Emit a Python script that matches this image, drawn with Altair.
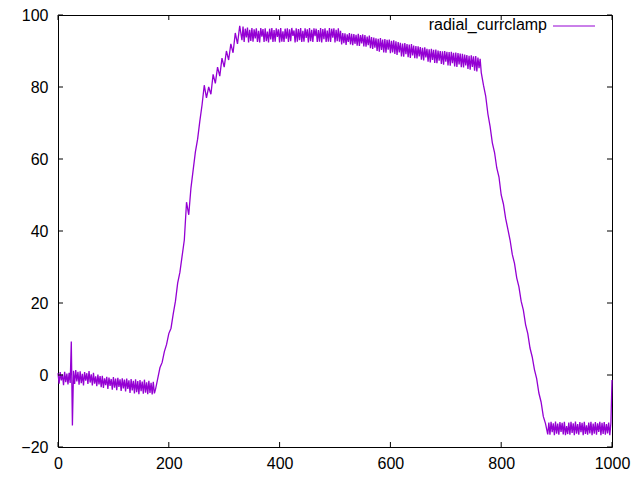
import altair as alt
import pandas as pd

series_name = "radial_currclamp"

# samples: (start x, step, values)
baseline_start, baseline_step = 0, 2
baseline_y = [0.5, -2.4, 0.8, -1.5, 0.2, -2.8, 0.9, -2.0, 0.4, -2.6,
              0.6, -2.2, 9.3, -14.0, 1.2, -2.5, 1.4, -1.8, 0.9, -2.7,
              1.0, -2.3, 0.3, -2.9, 0.8, -1.6, 0.5, -2.5, 1.1, -2.1,
              0.2, -2.9, 0.6, -2.4, -0.4, -3.1, 0.1, -2.6, -0.3, -3.4,
              -0.2, -3.6, -0.9, -2.8, -0.5, -3.9, -0.7, -3.0, -1.1, -4.1,
              -0.6, -3.5, -1.0, -4.2, -0.8, -3.3, -1.2, -4.4, -0.9, -3.7,
              -1.3, -4.6, -1.0, -3.9, -1.5, -5.0, -1.1, -4.3, -1.6, -5.1,
              -1.2, -4.8, -1.7, -5.3, -1.4, -4.5, -1.8, -5.2, -1.3, -4.9,
              -2.0, -5.3, -1.6, -5.0, -2.2, -5.4, -1.9, -5.1]

rise_start, rise_step = 176, 4
rise_y = [-4.0, -1.0, 2.0, 3.5, 6.5, 8.5, 11.5, 13.0, 17.0, 20.5,
          25.5, 28.5, 33.0, 37.5, 48.0, 44.5, 52.0, 57.0, 62.0, 65.5,
          70.5, 75.0, 80.5, 77.0, 80.0, 78.0, 83.5, 81.0, 85.5, 83.0,
          88.0, 85.5, 90.0, 87.5, 92.0, 89.5, 95.0, 92.0, 97.0]

plateau_start, plateau_step = 332, 2
plateau_y = [93.0, 96.8, 92.5, 96.2, 93.8, 96.5, 92.4, 95.9, 92.8, 96.4,
             92.6, 96.0, 93.5, 96.3, 92.5, 95.6, 92.4, 96.4, 94.0, 96.1,
             92.5, 96.3, 92.7, 95.4, 92.4, 96.2, 93.2, 96.4, 92.5, 95.8,
             92.6, 96.3, 93.9, 96.0, 92.4, 96.4, 92.6, 95.5, 92.5, 96.2,
             93.4, 96.3, 92.5, 96.0, 92.7, 96.4, 94.2, 95.7, 92.4, 96.3,
             92.6, 96.1, 93.0, 96.4, 92.5, 95.6, 92.6, 96.3, 93.6, 96.0,
             92.4, 96.4, 92.7, 95.9, 92.5, 96.3, 94.1, 96.2, 92.5, 95.8,
             92.6, 96.4, 92.4, 96.1, 93.3, 96.3, 92.5, 95.7, 92.6, 96.4,
             92.5, 96.2, 93.7, 96.3, 92.4, 95.9, 92.7, 96.3, 92.6, 95.6,
             91.8, 95.0, 92.2, 94.9, 91.7, 94.6, 92.5, 95.0, 91.8, 94.8,
             91.6, 94.7, 92.0, 94.5, 91.5, 94.8, 91.4, 94.4, 92.1, 94.6,
             91.3, 94.4, 91.2, 94.0, 91.6, 94.3, 90.8, 93.9, 90.6, 93.7,
             90.9, 93.5, 90.0, 93.4, 89.8, 93.6, 90.3, 93.2, 89.6, 93.3,
             89.5, 93.1, 90.4, 93.2, 89.4, 92.8, 89.6, 93.0, 89.2, 92.7,
             88.9, 92.5, 89.6, 92.3, 88.5, 92.1, 88.4, 92.2, 89.1, 91.9,
             88.3, 91.8, 88.1, 91.9, 88.8, 91.5, 88.0, 91.4, 87.9, 91.3,
             88.5, 91.1, 87.6, 90.9, 87.4, 91.0, 88.2, 90.6, 87.0, 90.5,
             86.8, 90.6, 87.5, 90.3, 86.7, 90.4, 86.6, 90.1, 87.3, 90.0,
             86.4, 89.9, 86.2, 90.0, 87.0, 89.8, 86.0, 89.7, 85.9, 89.8,
             86.6, 89.5, 85.7, 89.6, 85.6, 89.4, 86.3, 89.3, 85.5, 89.2,
             85.4, 89.0, 86.0, 88.9, 85.0, 88.7, 84.8, 88.8, 85.6, 88.5,
             84.5, 88.6, 84.3, 88.2, 85.2, 87.8]

descent_start, descent_step = 764, 4
descent_y = [84.0, 80.5, 77.5, 72.5, 69.0, 64.5, 61.8, 57.5, 55.0, 50.0,
             47.5, 43.5, 40.5, 37.5, 33.5, 31.0, 27.0, 24.5, 20.5, 18.0,
             14.0, 11.5, 7.5, 5.0, 1.5, -1.0, -5.0, -7.5, -11.5, -13.5,
             -16.5]

floor_start, floor_step = 886, 2
floor_y = [-13.2, -16.6, -13.0, -15.9, -13.4, -16.7, -12.9, -16.3, -13.5, -16.6,
           -13.1, -15.8, -13.3, -16.5, -13.0, -16.7, -14.2, -16.4, -13.2, -16.6,
           -13.0, -16.1, -13.4, -16.7, -12.9, -16.3, -13.6, -16.6, -13.1, -15.9,
           -13.3, -16.7, -13.0, -16.4, -14.0, -16.6, -13.2, -16.2, -13.0, -16.7,
           -13.5, -16.3, -13.1, -16.6, -13.4, -15.8, -13.0, -16.7, -13.3, -16.4,
           -13.1, -16.6, -13.6, -16.2, -13.2, -16.7, -13.4, -1.4]

x_ticks = [0, 200, 400, 600, 800, 1000]
y_ticks = [-20, 0, 20, 40, 60, 80, 100]

segments = [(baseline_start, baseline_step, baseline_y),
            (rise_start, rise_step, rise_y),
            (plateau_start, plateau_step, plateau_y),
            (descent_start, descent_step, descent_y),
            (floor_start, floor_step, floor_y)]
xs, ys = [], []
for start, step, vals in segments:
    for i, v in enumerate(vals):
        xs.append(start + step * i)
        ys.append(v)
df = pd.DataFrame({"x": xs, "y": ys})

W, H = 554, 432
TICK = 5
FONT = "Liberation Sans"
FS = 16
COLOR = "#9400D3"

xscale = alt.Scale(domain=[0, 1000], nice=False, zero=False)
yscale = alt.Scale(domain=[-20, 100], nice=False, zero=False)

line = alt.Chart(df).mark_line(color=COLOR, strokeWidth=1.3).encode(
    x=alt.X("x:Q", scale=xscale, title=None,
            axis=alt.Axis(values=x_ticks, format="d", ticks=False, domain=False,
                          grid=False, labelFont=FONT, labelFontSize=FS,
                          labelColor="black", labelPadding=8, labelFlush=False)),
    y=alt.Y("y:Q", scale=yscale, title=None,
            axis=alt.Axis(values=y_ticks, format="d", ticks=False, domain=False,
                          grid=False, labelFont=FONT, labelFontSize=FS,
                          labelColor="black", labelPadding=10)),
)

xt = pd.DataFrame({"x": x_ticks})
yt = pd.DataFrame({"y": y_ticks})
bottom_ticks = alt.Chart(xt).mark_rule(color="black", strokeWidth=1).encode(
    x=alt.X("x:Q", scale=xscale), y=alt.value(H), y2=alt.value(H - TICK))
top_ticks = alt.Chart(xt).mark_rule(color="black", strokeWidth=1).encode(
    x=alt.X("x:Q", scale=xscale), y=alt.value(0), y2=alt.value(TICK))
left_ticks = alt.Chart(yt).mark_rule(color="black", strokeWidth=1).encode(
    y=alt.Y("y:Q", scale=yscale), x=alt.value(0), x2=alt.value(TICK))
right_ticks = alt.Chart(yt).mark_rule(color="black", strokeWidth=1).encode(
    y=alt.Y("y:Q", scale=yscale), x=alt.value(W), x2=alt.value(W - TICK))

leg = pd.DataFrame({"label": [series_name]})
legend_text = alt.Chart(leg).mark_text(
    align="right", baseline="middle", font=FONT, fontSize=FS, color="black"
).encode(x=alt.value(489), y=alt.value(10), text="label:N")
legend_line = alt.Chart(leg).mark_rule(color=COLOR, strokeWidth=1).encode(
    x=alt.value(495), x2=alt.value(537), y=alt.value(11))

chart = alt.layer(
    line, bottom_ticks, top_ticks, left_ticks, right_ticks, legend_text, legend_line
).properties(
    width=W, height=H,
    autosize=alt.AutoSizeParams(type="none"),
    padding={"left": 50, "top": 7, "right": 20, "bottom": 25},
    background="white",
).configure_view(stroke="black", strokeWidth=1)

chart.save("out.html", embed_options={"renderer": "svg", "actions": False})
